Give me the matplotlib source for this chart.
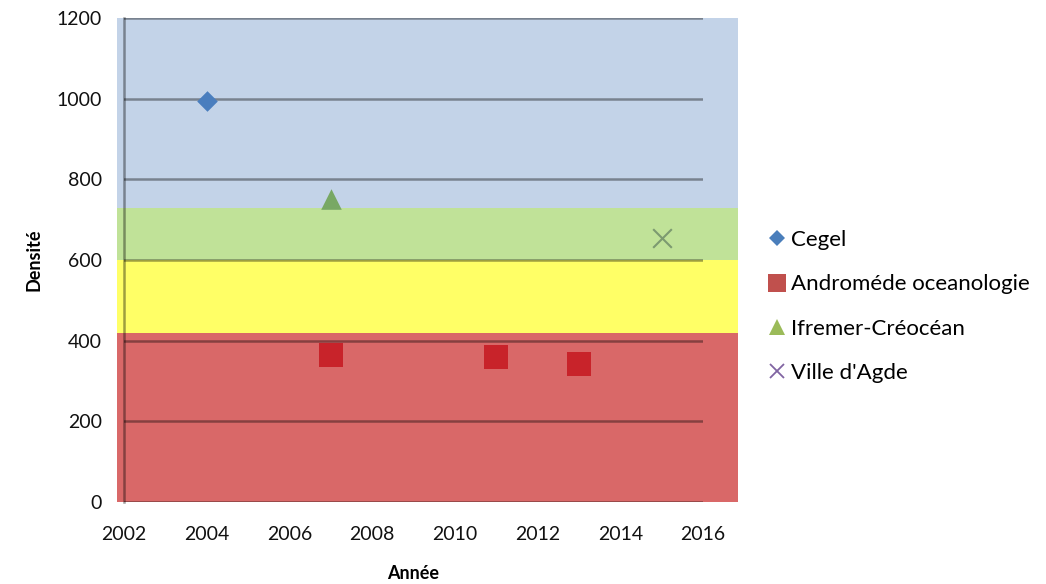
import matplotlib.pyplot as plt
from matplotlib.patches import Rectangle
from matplotlib.lines import Line2D

plt.rcParams['font.family'] = ['Lato', 'DejaVu Sans']

# data
cegel_x = [2004]
cegel_y = [995]
andro_x = [2007, 2011, 2013]
andro_y = [364, 359, 342]
ifremer_x = [2007]
ifremer_y = [750]
agde_x = [2015]
agde_y = [655]

# background bands (lower, upper, colour)
band_low = [0, 420, 600, 730]
band_high = [420, 600, 730, 1200]
band_col = ['#d96868', '#ffff66', '#c0e298', '#c3d3e8']

labels = ['Cegel', 'Androméde oceanologie', 'Ifremer-Créocéan', "Ville d'Agde"]
yticks = [0, 200, 400, 600, 800, 1000, 1200]
xticks = [2002, 2004, 2006, 2008, 2010, 2012, 2014, 2016]

W, H = 1046, 584
fig = plt.figure(figsize=(W/100, H/100), dpi=100)
ax = fig.add_axes([124/W, 1-502/H, (703-124)/W, (502-18)/H])
ax.set_xlim(2002, 2016)
ax.set_ylim(0, 1200)

for lo, hi, c in zip(band_low, band_high, band_col):
    r = Rectangle((2001.83, lo), 2016.85-2001.83, hi-lo, facecolor=c,
                  edgecolor='none', clip_on=False, zorder=1)
    ax.add_patch(r)

for v in yticks:
    ax.axhline(v, color='black', alpha=0.38, lw=1.8, zorder=2)
ax.plot([2002, 2002], [0, 1200], color='black', alpha=0.38, lw=1.8, zorder=2, clip_on=False)

ax.scatter(cegel_x, cegel_y, marker='D', s=110, color='#4a7ebe', zorder=3, linewidths=0)
ax.scatter(andro_x, andro_y, marker='s', s=300, color='#c8232a', zorder=3, linewidths=0)
ax.scatter(ifremer_x, ifremer_y, marker='^', s=220, color='#78a864', zorder=3, linewidths=0)
ax.scatter(agde_x, agde_y, marker='x', s=180, color='#7c9a70', zorder=3, linewidths=1.5)

for s in ax.spines.values():
    s.set_visible(False)
ax.set_xticks(xticks)
ax.set_yticks(yticks)
ax.tick_params(length=0, labelsize=14, colors='#111111')
ax.tick_params(axis='x', pad=17)
ax.tick_params(axis='y', pad=16)
ax.set_xlabel('Année', fontsize=13, fontweight='bold', labelpad=16)
ax.set_ylabel('Densité', fontsize=13, fontweight='bold', labelpad=10)

handles = [
    Line2D([], [], ls='none', marker='D', ms=8, color='#4a7ebb', mew=0),
    Line2D([], [], ls='none', marker='s', ms=13, color='#c0504d', mew=0),
    Line2D([], [], ls='none', marker='^', ms=12, color='#9bbb59', mew=0),
    Line2D([], [], ls='none', marker='x', ms=10, color='#8064a2', mew=1.3),
]
fig.legend(handles, labels, loc='upper left', bbox_to_anchor=(760/W, 1-221/H),
           frameon=False, fontsize=16, handlelength=0.7, handletextpad=0.3,
           labelspacing=1.1, borderaxespad=0)

fig.savefig('out.png', dpi=100)
